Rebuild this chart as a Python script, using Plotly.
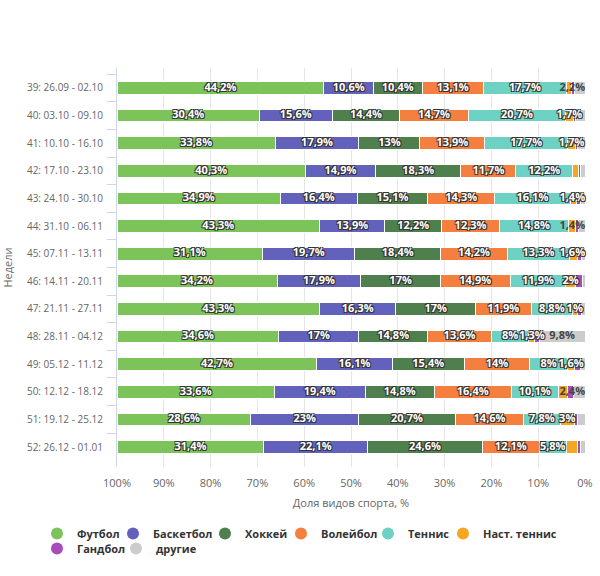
import plotly.graph_objects as go

weeks = ["39: 26.09 - 02.10", "40: 03.10 - 09.10", "41: 10.10 - 16.10", "42: 17.10 - 23.10",
         "43: 24.10 - 30.10", "44: 31.10 - 06.11", "45: 07.11 - 13.11", "46: 14.11 - 20.11",
         "47: 21.11 - 27.11", "48: 28.11 - 04.12", "49: 05.12 - 11.12", "50: 12.12 - 18.12",
         "51: 19.12 - 25.12", "52: 26.12 - 01.01"]

football = [44.2, 30.4, 33.8, 40.3, 34.9, 43.3, 31.1, 34.2, 43.3, 34.6, 42.7, 33.6, 28.6, 31.4]
basketball = [10.6, 15.6, 17.9, 14.9, 16.4, 13.9, 19.7, 17.9, 16.3, 17.0, 16.1, 19.4, 23.0, 22.1]
hockey = [10.4, 14.4, 13.0, 18.3, 15.1, 12.2, 18.4, 17.0, 17.0, 14.8, 15.4, 14.8, 20.7, 24.6]
volleyball = [13.1, 14.7, 13.9, 11.7, 14.3, 12.3, 14.2, 14.9, 11.9, 13.6, 14.0, 16.4, 14.6, 12.1]
tennis = [17.7, 20.7, 17.7, 12.2, 16.1, 14.8, 13.3, 11.9, 8.8, 8.0, 8.0, 10.1, 7.8, 5.8]
table_tennis = [1.1, 1.7, 1.7, 1.2, 1.4, 1.5, 1.6, 2.0, 1.0, 1.3, 1.6, 1.9, 3.0, 2.4]
handball = [0.7, 0.5, 0.4, 0.4, 0.8, 0.6, 0.9, 1.5, 0.9, 0.9, 1.2, 1.4, 0.8, 0.6]
other = [2.2, 2.0, 1.6, 1.0, 1.0, 1.4, 0.8, 0.6, 0.8, 9.8, 1.0, 2.4, 1.5, 1.0]

# which segments carry a visible data label in the reference
all_lbl = [1] * 14
table_tennis_lbl = [0, 1, 1, 0, 1, 0, 1, 1, 1, 1, 1, 0, 1, 0]
handball_lbl = [0] * 14
other_lbl = [1, 0, 0, 0, 0, 1, 0, 0, 0, 1, 0, 1, 0, 0]

series = [
    ("Футбол", football, all_lbl, "#7cc45a"),
    ("Баскетбол", basketball, all_lbl, "#6262bc"),
    ("Хоккей", hockey, all_lbl, "#4f7f4d"),
    ("Волейбол", volleyball, all_lbl, "#f47f3f"),
    ("Теннис", tennis, all_lbl, "#6dd1c4"),
    ("Наст. теннис", table_tennis, table_tennis_lbl, "#f5a623"),
    ("Гандбол", handball, handball_lbl, "#a64dbb"),
    ("другие", other, other_lbl, "#cccccc"),
]

# legend layout (pixel position of each legend dot: x, row top)
legend_pos = [(57, 519), (133, 519), (225, 519), (301, 519), (388, 519), (463, 519),
              (57, 534), (136, 534)]


def fmt(v):
    s = f"{v:.1f}".rstrip("0").rstrip(".")
    return s.replace(".", ",") + "%"


FONT = "Open Sans"
OUTLINE = "1px 1px 0 #333, -1px -1px 0 #333, 1px -1px 0 #333, -1px 1px 0 #333"

fig = go.Figure()

# bars: stack from 0 (right side of the reversed axis) so Футбол ends at 100 on the left
for name, vals, flags, color in reversed(series):
    fig.add_trace(go.Bar(
        y=weeks, x=vals, orientation="h", name=name,
        marker=dict(color=color, line=dict(color="white", width=1)),
        width=0.46, showlegend=False, hoverinfo="skip",
    ))

# data labels drawn above all bars, centred on each segment (kept inside the plot edge)
n = len(weeks)
for idx, (name, vals, flags, color) in enumerate(series):
    later = series[idx + 1:]
    xs, ys, ts = [], [], []
    for r in range(n):
        if not flags[r]:
            continue
        base = sum(s[1][r] for s in later)
        t = fmt(vals[r])
        mid = max(base + vals[r] / 2, len(t) * 0.68)
        xs.append(mid)
        ys.append(weeks[r])
        ts.append(t)
    is_other = name == "другие"
    fig.add_trace(go.Scatter(
        x=xs, y=ys, text=ts, mode="text", textposition="middle center",
        textfont=dict(family=FONT, size=11, weight="bold",
                      color="#444" if is_other else "white",
                      shadow="none" if is_other else OUTLINE),
        cliponaxis=False, showlegend=False, hoverinfo="skip",
    ))

legend_common = dict(
    orientation="h", xref="container", yref="container",
    xanchor="left", yanchor="top",
    font=dict(family=FONT, size=11, color="#333", weight="bold"),
    itemsizing="constant", bgcolor="rgba(0,0,0,0)",
)

legends = {}
for i, ((name, vals, flags, color), (px, py)) in enumerate(zip(series, legend_pos)):
    key = "legend" if i == 0 else f"legend{i + 1}"
    fig.add_trace(go.Scatter(
        x=[None], y=[None], mode="markers", name=name,
        marker=dict(symbol="circle", size=11, color=color),
        legend=key,
    ))
    legends[key] = dict(x=(px - 20) / 600, y=1 - py / 576, **legend_common)

fig.update_layout(
    width=600, height=576,
    barmode="stack",
    plot_bgcolor="white", paper_bgcolor="white",
    margin=dict(l=117, r=15, t=68, b=109, autoexpand=False),
    font=dict(family=FONT, size=11, color="#666"),
    bargap=0.54,
    xaxis=dict(
        range=[100, 0], dtick=10, ticksuffix="%",
        showgrid=True, gridcolor="#e6e6e6", gridwidth=1,
        zeroline=False, showline=False,
        tickfont=dict(size=11, color="#666"),
        ticklabelstandoff=8,
        title=dict(text="Доля видов спорта, %", font=dict(size=11, color="#666"), standoff=10),
        automargin=False,
    ),
    yaxis=dict(
        autorange="reversed", type="category",
        showgrid=False, zeroline=False,
        showline=True, linecolor="#ccd6eb", linewidth=1,
        ticks="outside", tickson="boundaries", ticklen=9, tickcolor="#ccd6eb",
        tickfont=dict(size=10, color="#666"),
        ticklabelstandoff=11,
        title=dict(text="Недели", font=dict(size=11, color="#666"), standoff=12),
        automargin=False,
    ),
    **legends,
)

fig.write_html("out.html")
